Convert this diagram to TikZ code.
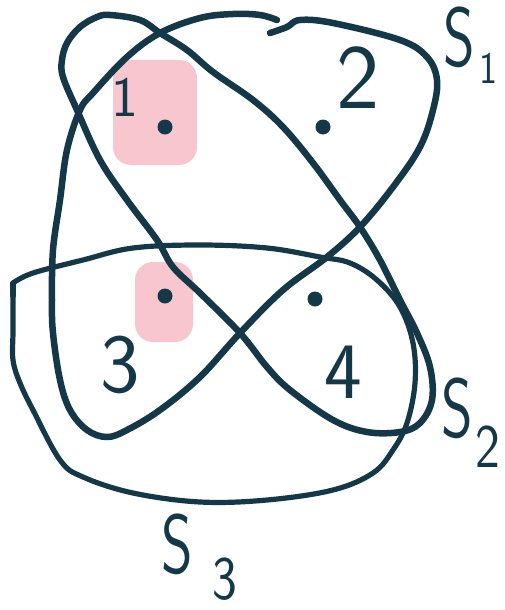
\documentclass[tikz,border=0pt]{standalone}
\usepackage{xcolor}
\definecolor{ink}{RGB}{21,56,72}
\definecolor{hl}{RGB}{247,198,206}
\begin{document}
\begin{tikzpicture}[x=1pt,y=-1pt,
  curve/.style={draw=ink,line width=6.5pt,line cap=round,line join=round},
  thin curve/.style={draw=ink,line width=5.2pt,line cap=round,line join=round},
  hlbox/.style={fill=hl,rounded corners=18pt},
  pt/.style={circle,fill=ink,inner sep=0pt,minimum size=15pt},
  digit/.style={text=ink,font=\sffamily\fontsize{80}{80}\selectfont,inner sep=0pt},
  setlbl/.style={text=ink,font=\sffamily\fontsize{84}{84}\selectfont,inner sep=0pt,xscale=0.72},
  sublbl/.style={text=ink,font=\sffamily\fontsize{62}{62}\selectfont,inner sep=0pt,xscale=0.85}]
\useasboundingbox (0,0) rectangle (505,610);
% highlight boxes
\fill[hlbox] (113,60) rectangle (197,165);
\fill[hlbox] (135,262) rectangle (193,342);
% S1
\draw[curve] plot[smooth,tension=0.6] coordinates {
 (277,20) (260,15) (233,14) (200,18) (160,33) (127,57) (93,93) (80,110)
 (67,150) (60,200) (53,250) (52,300) (53,333) (60,380) (70,410) (87,430) (107,437)
 (127,430) (160,410) (200,377) (240,333) (283,290) (327,257) (360,227)
 (393,187) (420,147) (433,110) (437,80) (427,57) (400,40) (333,23) (300,20) (287,27) (270,33)};
% S2
\draw[curve] plot[smooth cycle,tension=0.6] coordinates {
 (67,43) (80,27) (97,17) (110,15) (140,20) (160,33) (187,50) (213,72) (253,100)
 (283,127) (313,163) (340,200) (360,227) (380,260) (400,300) (417,333) (430,367)
 (432,400) (420,423) (400,432) (367,432) (333,420) (290,390) (267,367) (240,333)
 (200,293) (173,267) (157,240) (127,200) (100,160) (77,110) (63,77) (62,60)};
% S3
\draw[thin curve] plot[smooth,tension=0.6] coordinates {
 (13,283) (13,330) (13,360) (20,383) (33,410) (60,460) (83,477) (133,493) (200,502)
 (267,500) (333,490) (373,473) (393,450) (407,423) (415,383) (413,343) (400,307)
 (377,280) (350,263) (320,257) (267,248) (200,245) (133,248) (83,260) (33,273) (13,283)};
\draw[thin curve] (13,283) -- (13,296);
% dots
\node[pt] (d1) at (165,127) {};
\node[pt] (d2) at (323,127) {};
\node[pt] (d3) at (165,296) {};
\node[pt] (d4) at (315,299) {};
% digits
\node[digit,font=\sffamily\fontsize{57}{57}\selectfont] (n1) at (125,97) {1};
\node[digit,font=\sffamily\fontsize{92}{92}\selectfont] (n2) at (358,78) {2};
\node[digit,font=\sffamily\fontsize{84}{84}\selectfont] (n3) at (120,365) {3};
\node[digit] (n4) at (343,372) {4};
% set labels
\node[setlbl] (s1) at (459,37) {S};
\node[sublbl,font=\sffamily\fontsize{45}{45}\selectfont] (s1i) at (488,68) {1};
\node[setlbl] (s2) at (457,408) {S};
\node[sublbl] (s2i) at (488,447) {2};
\node[setlbl] (s3) at (177,544) {S};
\node[sublbl] (s3i) at (225,579) {3};
\end{tikzpicture}
\end{document}
